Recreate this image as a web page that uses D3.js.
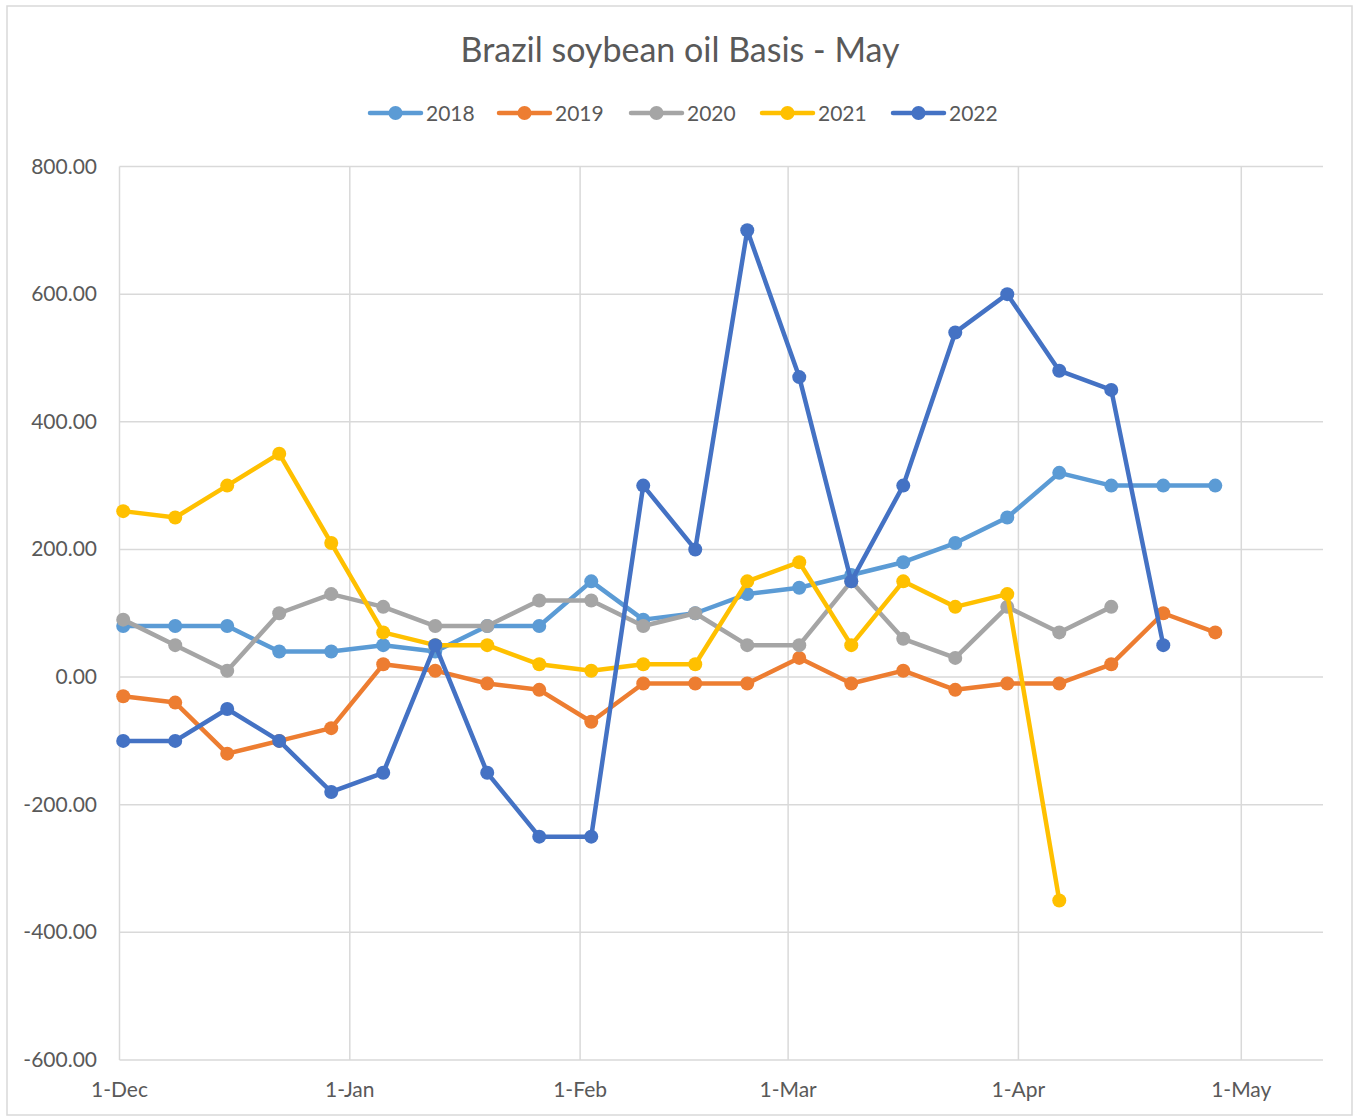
<!DOCTYPE html>
<html>
<head>
<meta charset="utf-8">
<script src="https://cdn.jsdelivr.net/npm/d3@7"></script>
<style>
	body { margin: 0; background: #fff; }
	text { font-family: Lato, "Open Sans", sans-serif; fill: #595959; }
</style>
</head>
<body>
<script>
// weekly observation dates (season Dec -> May)
let dates = ['2021-12-01','2021-12-08','2021-12-15','2021-12-22','2021-12-29',
	'2022-01-05','2022-01-12','2022-01-19','2022-01-26','2022-02-02','2022-02-09',
	'2022-02-16','2022-02-23','2022-03-02','2022-03-09','2022-03-16','2022-03-23',
	'2022-03-30','2022-04-06','2022-04-13','2022-04-20','2022-04-27']

let years = ['2018', '2019', '2020', '2021', '2022']
let colors = ['#5B9BD5', '#ED7D31', '#A5A5A5', '#FFC000', '#4472C4']

let s2018 = [80, 80, 80, 40, 40, 50, 40, 80, 80, 150, 90, 100, 130, 140, 160, 180, 210, 250, 320, 300, 300, 300]
let s2019 = [-30, -40, -120, -100, -80, 20, 10, -10, -20, -70, -10, -10, -10, 30, -10, 10, -20, -10, -10, 20, 100, 70]
let s2020 = [90, 50, 10, 100, 130, 110, 80, 80, 120, 120, 80, 100, 50, 50, 150, 60, 30, 110, 70, 110]
let s2021 = [260, 250, 300, 350, 210, 70, 50, 50, 20, 10, 20, 20, 150, 180, 50, 150, 110, 130, -350]
let s2022 = [-100, -100, -50, -100, -180, -150, 50, -150, -250, -250, 300, 200, 700, 470, 150, 300, 540, 600, 480, 450, 50]

let yTicks = [-600, -400, -200, 0, 200, 400, 600, 800]
let title = 'Brazil soybean oil Basis - May'

let W = 1354, H = 1117
let x0 = 119.5, x1 = 1323, y0 = 166.5, y1 = 1060

let parse = d3.timeParse('%Y-%m-%d')
let xMin = parse('2021-12-01'), xMax = parse('2022-05-12')

let x = d3.scaleTime().domain([xMin, xMax]).range([x0, x1])
let y = d3.scaleLinear().domain([-600, 800]).range([y1, y0])

let svg = d3.select('body').append('svg')
	.attr('width', W).attr('height', H)

svg.append('rect')
	.attr('x', 7).attr('y', 6).attr('width', W - 9).attr('height', H - 8)
	.attr('fill', '#fff').style('stroke', '#D9D9D9').attr('stroke-width', 1.5)

// gridlines
let monthTicks = d3.timeMonth.range(xMin, xMax)
svg.append('g').selectAll('line.h').data(yTicks).join('line')
	.attr('x1', x0).attr('x2', x1)
	.attr('y1', d => y(d)).attr('y2', d => y(d))
	.style('stroke', '#D9D9D9').attr('stroke-width', 1.5)
svg.append('g').selectAll('line.v').data(monthTicks).join('line')
	.attr('x1', d => x(d)).attr('x2', d => x(d))
	.attr('y1', y0).attr('y2', y1)
	.style('stroke', '#D9D9D9').attr('stroke-width', 1.5)

// axis labels
let fmt = d3.formatLocale({decimal: '.', thousands: ',', grouping: [3], currency: ['', ''], minus: '-'}).format('.2f')
svg.append('g').selectAll('text').data(yTicks).join('text')
	.attr('x', 97).attr('y', d => y(d) + 7)
	.attr('text-anchor', 'end').attr('font-size', 21)
	.text(d => fmt(d))
let dFmt = d3.timeFormat('%-d-%b')
svg.append('g').selectAll('text').data(monthTicks).join('text')
	.attr('x', d => x(d)).attr('y', 1097)
	.attr('text-anchor', 'middle').attr('font-size', 21)
	.text(d => dFmt(d))

// title
svg.append('text')
	.attr('x', 680).attr('y', 62)
	.attr('text-anchor', 'middle').attr('font-size', 34)
	.text(title)

// series
let allSeries = [s2018, s2019, s2020, s2021, s2022]
let line = d3.line().x(d => x(d.date)).y(d => y(d.value))

allSeries.forEach((vals, i) => {
	let pts = vals.map((v, j) => ({date: d3.timeHour.offset(parse(dates[j]), 12), value: v}))
	let g = svg.append('g')
	g.append('path').datum(pts)
		.attr('d', line).attr('fill', 'none')
		.style('stroke', colors[i]).attr('stroke-width', 4.5)
		.attr('stroke-linejoin', 'round').attr('stroke-linecap', 'round')
	g.selectAll('circle').data(pts).join('circle')
		.attr('cx', d => x(d.date)).attr('cy', d => y(d.value))
		.attr('r', 7).attr('fill', colors[i])
})

// legend
let legX = [370, 499, 631, 762, 893]
years.forEach((yr, i) => {
	let g = svg.append('g').attr('transform', `translate(${legX[i]},113)`)
	g.append('line').attr('x1', 0).attr('x2', 51).attr('y1', 0).attr('y2', 0)
		.style('stroke', colors[i]).attr('stroke-width', 4.5).attr('stroke-linecap', 'round')
	g.append('circle').attr('cx', 25.5).attr('cy', 0).attr('r', 7).attr('fill', colors[i])
	g.append('text').attr('x', 56).attr('y', 7.5).attr('font-size', 21).text(yr)
})
</script>
</body>
</html>
